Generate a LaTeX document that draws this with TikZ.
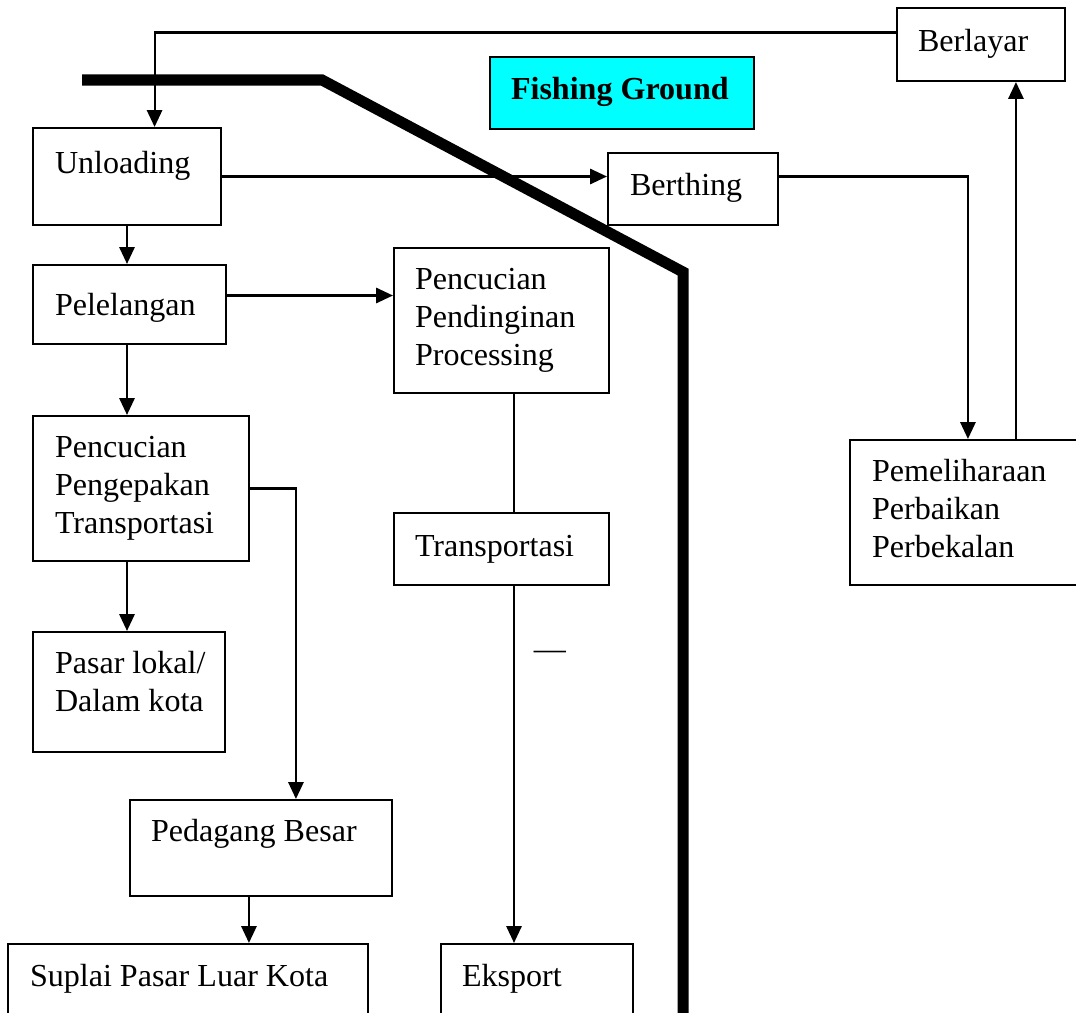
\documentclass[tikz,border=0pt]{standalone}
\usepackage{fontspec}
\setmainfont{Liberation Serif}
\usetikzlibrary{arrows.meta,fit,calc}

\definecolor{aqua}{RGB}{0,255,255}
\def\px{0.025cm}

\begin{document}
\begin{tikzpicture}[x=\px, y=-\px, line width=1.5pt, >={Triangle[length=0.42cm,width=0.38cm]}]
    \tikzstyle{box}=[draw, rectangle, inner sep=0pt]
    \tikzstyle{boxtext}=[anchor=north west, inner sep=0pt, align=left, font=\fontsize{22.8}{27}\selectfont, execute at begin node=\strut]
    \tikzstyle{wall}=[line width=0.275cm]

    \clip (0,0) rectangle (1076,1012);

    % Draw the boxes
    \foreach \name/\xa/\ya/\xb/\yb in {berlayar/897/8/1065/81, unload/33/128/221/225,
        berth/608/153/778/225, lelang/33/265/226/344, proses/394/248/609/393,
        kemas/33/416/249/561, trans/394/513/609/585, lokal/33/632/225/752,
        besar/130/800/392/896, suplai/8/944/368/1030, ekspor/441/944/633/1030,
        rawat/850/440/1090/585}
        \node[box, fit={(\xa,\ya) (\xb,\yb)}] (\name) {};
    \node[box, fill=aqua, fit={(490,57) (754,129)}] (fishing) {};

    % Texts of the boxes
    \node[boxtext] (berlayar-t) at ([shift={(21,17.4)}]berlayar.north west) {Berlayar};
    \node[boxtext, font=\fontsize{22.8}{27}\selectfont\bfseries] (fishing-t) at ([shift={(21,16.4)}]fishing.north west) {Fishing Ground};
    \node[boxtext] (unload-t) at ([shift={(22,19.4)}]unload.north west) {Unloading};
    \node[boxtext] (berth-t) at ([shift={(22,16.4)}]berth.north west) {Berthing};
    \node[boxtext] (lelang-t) at ([shift={(22,24.4)}]lelang.north west) {Pelelangan};
    \node[boxtext] (proses-t) at ([shift={(21,20.4)}]proses.north west) {Pencucian\\Pendinginan\\Processing};
    \node[boxtext] (kemas-t) at ([shift={(22,20.4)}]kemas.north west) {Pencucian\\Pengepakan\\Transportasi};
    \node[boxtext] (trans-t) at ([shift={(21,17.4)}]trans.north west) {Transportasi};
    \node[boxtext] (lokal-t) at ([shift={(22,19.4)}]lokal.north west) {Pasar lokal/\\Dalam kota};
    \node[boxtext] (besar-t) at ([shift={(21,15.4)}]besar.north west) {Pedagang Besar};
    \node[boxtext] (suplai-t) at ([shift={(22,16.4)}]suplai.north west) {Suplai Pasar Luar Kota};
    \node[boxtext] (ekspor-t) at ([shift={(21,16.4)}]ekspor.north west) {Eksport};
    \node[boxtext] (rawat-t) at ([shift={(22,19.4)}]rawat.north west) {Pemeliharaan\\Perbaikan\\Perbekalan};
    \node[font=\fontsize{22.8}{27}\selectfont] (dash) at (550,655) {—};

    % Connect the boxes
    \draw[->] ($(berlayar.north west)!0.34!(berlayar.south west)$) -| ($(unload.north west)!0.645!(unload.north east)$);
    \draw[->] (unload.east) -- (unload.east -| berth.west);
    \draw[->] (berth.east |- unload.east) -| ([xshift=119*\px]rawat.north west);
    \coordinate (up) at ([xshift=167*\px]rawat.north west);
    \draw[->] (up) -- (up |- berlayar.south);
    \draw[->] (unload.south) -- (unload.south |- lelang.north);
    \coordinate (l-out) at ([yshift=9*\px]lelang.east);
    \draw[->] (l-out) -- (l-out -| proses.west);
    \draw[->] (unload.south |- lelang.south) -- (unload.south |- kemas.north);
    \draw[->] (kemas.east) -| ([xshift=167*\px]besar.north west);
    \draw[->] (unload.south |- kemas.south) -- (unload.south |- lokal.north);
    \coordinate (p-out) at ([xshift=12.5*\px]proses.south);
    \draw (p-out) -- (p-out |- trans.north);
    \draw[->] (p-out |- trans.south) -- (p-out |- ekspor.north);
    \coordinate (b-out) at ([xshift=120*\px]besar.south west);
    \draw[->] (b-out) -- (b-out |- suplai.north);

    % The thick line
    \draw[wall] (82,80) -- (322,80) -- (683,272) -- (683,1030);
\end{tikzpicture}
\end{document}
